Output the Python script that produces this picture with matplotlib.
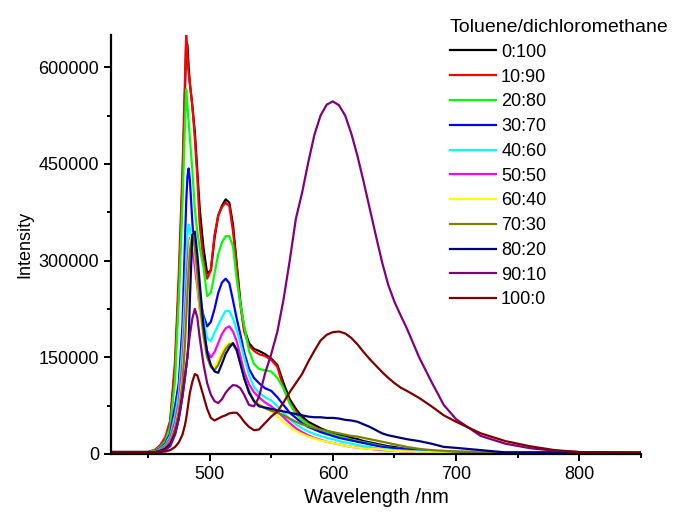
import numpy as np
import matplotlib.pyplot as plt
from matplotlib.ticker import MultipleLocator

plt.rcParams['font.family'] = ['Liberation Sans', 'DejaVu Sans']

# wavelength grid (nm), intensities in thousands of counts
wavelength = [420, 450, 456, 460, 464, 468, 472, 475, 478, 480,
              481, 482, 483, 484, 486, 488, 490, 492, 495, 498,
              501, 504, 507, 510, 513, 516, 519, 522, 525, 528,
              532, 536, 540, 545, 550, 555, 560, 565, 570, 575,
              580, 585, 590, 595, 600, 605, 610, 615, 620, 625,
              630, 635, 640, 645, 650, 655, 660, 670,
              680, 690, 700, 720, 740, 760, 780, 800, 825, 850]

i_0_100 = [3, 3, 6, 12, 22, 48, 135, 260, 420, 560,
           640, 635, 600, 575, 540, 500, 440, 380, 320, 280,
           285, 335, 370, 385, 395, 390, 355, 295, 235, 195,
           172, 163, 160, 155, 148, 138, 110, 85, 70, 58,
           50, 45, 40, 36, 33, 30, 28, 25, 23, 20,
           18, 16, 14, 12, 11, 9, 8, 6,
           5, 4, 3.5, 3, 3, 3, 2.5, 2.5, 2, 2]
i_10_90 = [3, 3, 7, 14, 26, 52, 145, 280, 440, 580,
           650, 620, 590, 575, 540, 490, 430, 355, 300, 272,
           285, 340, 370, 383, 390, 385, 345, 290, 230, 190,
           168, 160, 155, 152, 146, 135, 102, 80, 66, 55,
           47, 42, 37, 33, 30, 27, 25, 22, 20, 18,
           16, 14, 12, 10, 9, 8, 7, 5,
           4, 3.5, 3, 3, 2.5, 2.5, 2, 2, 2, 2]
i_20_80 = [3, 3, 6, 11, 20, 42, 115, 240, 390, 510,
           566, 540, 515, 490, 440, 380, 345, 320, 290, 245,
           250, 280, 310, 328, 338, 338, 322, 272, 232, 200,
           160, 140, 132, 130, 128, 118, 102, 78, 62, 53,
           46, 41, 37, 33, 30, 27, 25, 22, 20, 18,
           16, 14, 12, 10, 9, 8, 7, 5,
           4, 3.5, 3, 3, 2.5, 2.5, 2, 2, 2, 2]
i_30_70 = [3, 3, 5, 9, 16, 32, 75, 110, 200, 330,
           390, 430, 443, 425, 360, 305, 270, 240, 215, 198,
           205, 225, 250, 266, 272, 265, 238, 210, 185, 158,
           132, 118, 110, 102, 98, 88, 76, 64, 56, 48,
           42, 38, 34, 31, 28, 25, 23, 21, 19, 17,
           15, 13, 11, 10, 9, 8, 7, 5,
           4, 3, 3, 2.5, 2.5, 2.5, 2, 2, 2, 2]
i_40_60 = [3, 3, 4, 8, 14, 28, 60, 95, 170, 250,
           300, 340, 356, 350, 320, 300, 280, 250, 210, 180,
           175, 188, 200, 212, 222, 222, 210, 192, 172, 150,
           122, 104, 95, 88, 83, 74, 64, 54, 46, 40,
           35, 31, 28, 25, 23, 20, 18, 16, 14, 12,
           11, 9, 8, 7, 6, 5.5, 5, 4,
           3, 3, 2.5, 2.5, 2.5, 2, 2, 2, 2, 2]
i_50_50 = [3, 3, 4, 7, 12, 24, 50, 80, 140, 210,
           250, 290, 320, 335, 320, 290, 260, 225, 190, 160,
           150, 158, 172, 186, 195, 198, 190, 175, 152, 128,
           108, 96, 88, 80, 74, 66, 57, 48, 40, 34,
           29, 25, 22, 19, 17, 15, 13, 11, 10, 9,
           8, 7, 6, 5.5, 5, 4.5, 4, 3,
           3, 2.5, 2.5, 2.5, 2, 2, 2, 2, 2, 2]
i_60_40 = [3, 3, 4, 6, 10, 20, 42, 70, 120, 185,
           225, 265, 300, 330, 342, 310, 270, 225, 180, 150,
           138, 135, 145, 158, 168, 172, 172, 160, 140, 118,
           96, 84, 78, 72, 66, 58, 50, 42, 36, 31,
           27, 24, 21, 19, 17, 15, 13, 11, 10, 9,
           8, 7.5, 7, 6, 5, 4.5, 4, 3,
           3, 2.5, 2.5, 2.5, 2, 2, 2, 2, 2, 2]
i_70_30 = [3, 3, 4, 6, 10, 19, 40, 65, 110, 170,
           210, 250, 285, 315, 340, 320, 280, 235, 185, 150,
           135, 130, 138, 152, 163, 170, 170, 160, 140, 118,
           98, 82, 76, 71, 67, 64, 60, 55, 50, 46,
           43, 40, 38, 36, 34, 32, 30, 28, 27, 25,
           23, 21, 19, 17, 15, 13, 11, 8,
           6, 5, 3.5, 2.5, 2.5, 2.5, 2, 2, 2, 2]
i_80_20 = [3, 3, 3, 5, 8, 15, 32, 55, 90, 120,
           135, 150, 175, 240, 340, 345, 310, 265, 200, 158,
           138, 128, 126, 140, 155, 165, 172, 162, 140, 118,
           95, 82, 74, 72, 70, 68, 66, 64, 62, 60,
           58, 57, 57, 56, 56, 55, 53, 52, 50, 46,
           42, 37, 32, 29, 27, 25, 23, 20,
           16, 11, 9.5, 6, 2.5, 2.5, 2.5, 2.5, 2, 2]
i_90_10 = [2.5, 2.5, 3, 4, 6, 12, 30, 55, 90, 118,
           135, 152, 170, 185, 210, 225, 212, 180, 140, 110,
           92, 82, 79, 85, 95, 102, 107, 106, 102, 92,
           76, 74, 88, 125, 155, 190, 240, 300, 365, 405,
           452, 495, 525, 542, 547, 541, 525, 497, 462, 422,
           380, 338, 297, 262, 236, 215, 195, 150,
           112, 76, 54, 28, 16, 9, 5, 3, 2.5, 2]
i_100_0 = [3, 3, 3, 3, 4, 6, 11, 18, 30, 45,
           55, 68, 82, 95, 112, 124, 122, 110, 90, 70,
           56, 52, 55, 58, 60, 63, 64, 64, 58, 50,
           42, 37, 38, 48, 58, 66, 80, 96, 110, 124,
           143, 160, 176, 185, 189, 190, 187, 180, 170, 158,
           147, 137, 127, 118, 110, 103, 98, 87,
           74, 60, 50, 32, 20, 12, 6, 3, 2.5, 2]

labels = ['0:100', '10:90', '20:80', '30:70', '40:60', '50:50',
          '60:40', '70:30', '80:20', '90:10', '100:0']
series = [i_0_100, i_10_90, i_20_80, i_30_70, i_40_60, i_50_50,
          i_60_40, i_70_30, i_80_20, i_90_10, i_100_0]
colors = ['#000000', '#FF0000', '#00FF00', '#0000FF', '#00FFFF', '#FF00FF',
          '#FFFF00', '#808000', '#000080', '#800080', '#800000']

fig = plt.figure(figsize=(6.82, 5.19), dpi=100)
ax = fig.add_axes([111 / 682, 1 - 454 / 519, 530 / 682, 419 / 519])

wl = np.array(wavelength)
for vals, lab, col in zip(series, labels, colors):
    ax.plot(wl, np.array(vals) * 1000, color=col, lw=1.6, label=lab)

ax.set_xlim(420, 850)
ax.set_ylim(0, 650000)
ax.xaxis.set_major_locator(MultipleLocator(100))
ax.xaxis.set_minor_locator(MultipleLocator(50))
ax.yaxis.set_major_locator(MultipleLocator(150000))
ax.yaxis.set_minor_locator(MultipleLocator(75000))

for side in ['top', 'right']:
    ax.spines[side].set_visible(False)
for side in ['left', 'bottom']:
    ax.spines[side].set_linewidth(1.6)
ax.tick_params(which='major', direction='out', length=5, width=1.4, labelsize=13)
ax.tick_params(which='minor', direction='out', length=3, width=1.4)

ax.set_xlabel('Wavelength /nm', fontsize=14.5)
ax.set_ylabel('Intensity', fontsize=13)

fig.legend(loc='upper left', bbox_to_anchor=(441 / 682, 1 - 10 / 519),
           frameon=False, title='Toluene/dichloromethane', alignment='left',
           fontsize=13, title_fontsize=14, handlelength=2.55, handletextpad=0.28,
           labelspacing=0.43, borderpad=0)

fig.savefig('out.png', dpi=100)
